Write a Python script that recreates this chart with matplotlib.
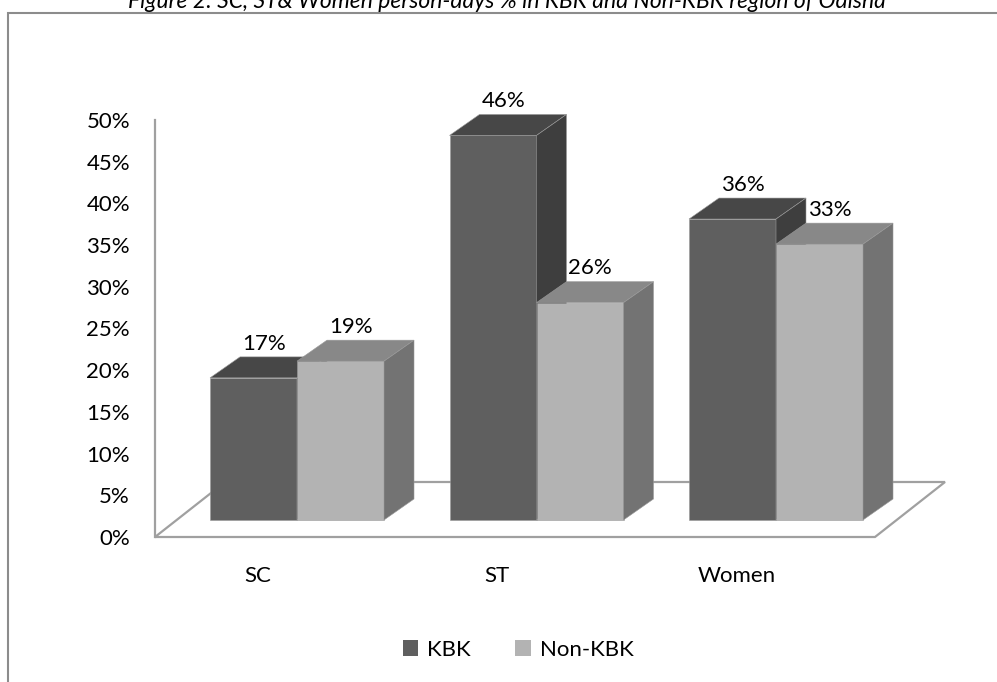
import numpy as np
import matplotlib
matplotlib.use('Agg')
import matplotlib.pyplot as plt
from matplotlib.patches import Polygon, Patch, Rectangle

plt.rcParams['font.family'] = ['Lato', 'DejaVu Sans']

# data
categories = ['SC', 'ST', 'Women']
series = ['KBK', 'Non-KBK']
kbk = [17, 46, 36]
non_kbk = [19, 26, 33]
yticks = [0, 5, 10, 15, 20, 25, 30, 35, 40, 45, 50]
title = 'Figure 2: SC, ST& Women person-days % in KBK and Non-KBK region of Odisha'

W, H = 997, 682
SX = 239.5   # px per category unit
SY = 8.36    # px per percent
FS = 16

# faces: front, top, side
colors = {
    'KBK': ('#5f5f5f', '#474747', '#3e3e3e'),
    'Non-KBK': ('#b3b3b3', '#888888', '#737373'),
}

bw = 87 / SX
dx = 30 / SX
dy = 21 / SY
floor_front = -17 / SY
floor_dy = 55 / SY
floor_dx = 70 / SX
floor_x0 = -55 / SX
floor_x1 = 665 / SX
line_col = '#a0a0a0'

fig = plt.figure(figsize=(W / 100, H / 100), dpi=100)
ax = fig.add_axes([0, 0, 1, 1])
ax.set_xlim(-210 / SX, (W - 210) / SX)
ax.set_ylim(-(H - 520) / SY, 520 / SY)
ax.axis('off')

# floor
floor = Polygon([(floor_x0, floor_front), (floor_x1, floor_front),
                 (floor_x1 + floor_dx, floor_front + floor_dy),
                 (floor_x0 + floor_dx, floor_front + floor_dy)],
                closed=True, facecolor='white', edgecolor=line_col, lw=1.6, zorder=1)
ax.add_patch(floor)


def bar3d(x, h, cols):
    front = Polygon([(x, 0), (x + bw, 0), (x + bw, h), (x, h)])
    top = Polygon([(x, h), (x + bw, h), (x + bw + dx, h + dy), (x + dx, h + dy)])
    side = Polygon([(x + bw, 0), (x + bw + dx, dy), (x + bw + dx, h + dy), (x + bw, h)])
    for p, c in zip([front, top, side], cols):
        p.set_facecolor(c)
        p.set_edgecolor('#9a9a9a')
        p.set_linewidth(0.4)
        p.set_zorder(2)
        ax.add_patch(p)


for i, cat in enumerate(categories):
    for j, (name, vals) in enumerate(zip(series, [kbk, non_kbk])):
        x = i + j * bw
        bar3d(x, vals[i], colors[name])
        ax.text(x + bw / 2 + dx / 2 - 0.02, vals[i] + dy + 0.4, f'{vals[i]}%',
                ha='center', va='bottom', fontsize=FS, zorder=3)
    ax.text(i + 0.2, -6.7, cat, ha='center', va='center', fontsize=FS)

# value axis
axv = fig.add_axes([155 / W, (H - 537) / H, 0.01, (537 - 120) / H])
axv.set_ylim(0, 50)
axv.set_yticks(yticks)
axv.set_yticklabels([f'{t}%' for t in yticks])
axv.set_xticks([])
axv.patch.set_visible(False)
for s in ['top', 'right', 'bottom']:
    axv.spines[s].set_visible(False)
axv.spines['left'].set_color(line_col)
axv.spines['left'].set_linewidth(1.6)
axv.tick_params(axis='y', length=0, pad=18, labelsize=FS)

# legend
handles = [Patch(facecolor=colors[s][0]) for s in series]
fig.legend(handles, series, loc='center', bbox_to_anchor=(518 / W, (H - 650) / H),
           ncol=2, frameon=False, fontsize=FS, handlelength=0.7, handleheight=0.7,
           handletextpad=0.4, columnspacing=2.0)

# chart frame (runs past the right and bottom edges)
frame = Rectangle((8 / W, -0.05), 1.0, 1.05 - 13 / H, transform=fig.transFigure,
                  fill=False, edgecolor='#8c8c8c', lw=1.5)
fig.patches.append(frame)

fig.text(0.508, 1 - 8 / H, title, ha='center', va='baseline', style='italic', fontsize=16.5)

fig.savefig('out.png', dpi=100)
